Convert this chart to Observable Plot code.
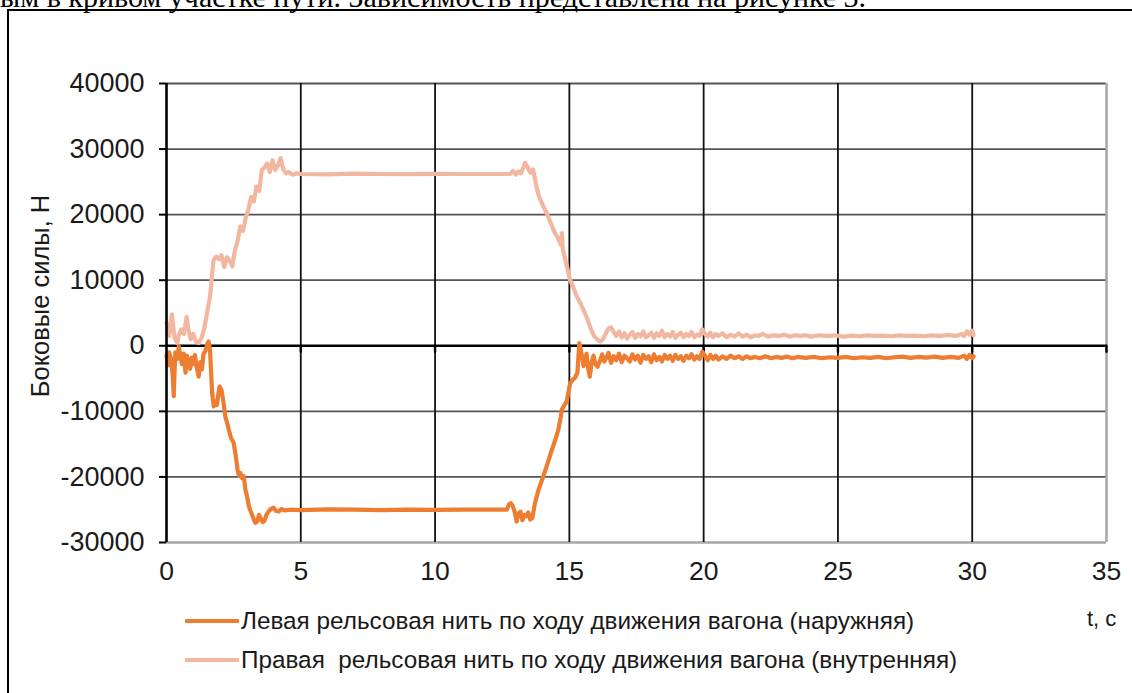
<!DOCTYPE html>
<html>
<head>
<meta charset="utf-8">
<script src="https://cdn.jsdelivr.net/npm/d3@7"></script>
<script src="https://cdn.jsdelivr.net/npm/@observablehq/plot@0.6"></script>
<style>
  html, body { margin: 0; padding: 0; background: #fff; overflow: hidden; }
  #wrap { position: relative; width: 1132px; height: 693px; overflow: hidden; font-family: "Liberation Sans", Arial, sans-serif; }
  #chart { position: absolute; left: 0; top: 0; }
  .abs { position: absolute; white-space: pre; color: #1a1a1a; }
  #toptext { left: 0; top: -20px; font-family: "Liberation Serif", "Times New Roman", serif; font-size: 30px; color: #000; }
  #box { left: 7px; top: 9px; width: 1150px; height: 720px; border: 2.5px solid #000; box-sizing: border-box; }
  #ytitle { left: 40px; top: 296px; font-size: 25.5px; transform: translate(-50%, -50%) rotate(-90deg); }
  .leg { left: 185px; font-size: 24.3px; display: flex; align-items: center; }
  .sw { width: 54px; height: 4px; margin-right: 2px; }
  #tunit { left: 1087px; top: 606px; font-size: 22px; }
</style>
</head>
<body>
<div id="wrap">
  <div class="abs" id="toptext">ым в кривом участке пути. Зависимость представлена на рисунке 3.</div>
  <div class="abs" id="box"></div>
  <div id="chart"></div>
  <div class="abs" id="ytitle">Боковые силы, Н</div>
  <div class="abs leg" id="leg1" style="top:607px"><span class="sw" id="sw1"></span><span id="lt1"></span></div>
  <div class="abs leg" id="leg2" style="top:646px"><span class="sw" id="sw2"></span><span id="lt2"></span></div>
  <div class="abs" id="tunit">t, с</div>
</div>
<script>
// ---- data ----
const seriesNames = [
  "Левая рельсовая нить по ходу движения вагона (наружняя)",
  "Правая  рельсовая нить по ходу движения вагона (внутренняя)"
];
const seriesColors = ["#ED7D31", "#F2B7A0"];
const xTicks = [0, 5, 10, 15, 20, 25, 30, 35];
const yTicks = [-30000, -20000, -10000, 0, 10000, 20000, 30000, 40000];

// Left rail (outer) – time, s
const leftT = [
  0.00,0.05,0.10,0.18,0.24,0.27,0.30,0.33,0.40,0.46,0.52,0.58,0.64,0.71,0.76,0.82,0.88,0.94,1.00,1.06,
  1.12,1.20,1.26,1.32,1.38,1.45,1.52,1.57,1.62,1.66,1.70,1.76,1.82,1.88,1.94,1.98,2.05,2.12,2.19,2.26,
  2.32,2.40,2.50,2.58,2.64,2.69,2.75,2.82,2.88,2.94,3.00,3.07,3.13,3.19,3.25,3.31,3.38,3.44,3.50,3.58,
  3.65,3.72,3.80,3.88,3.99,4.08,4.18,4.28,4.40,4.60,5,6,7,8,9,10,11,12,12.5,12.67,
  12.75,12.82,12.90,12.97,13.04,13.10,13.18,13.25,13.32,13.40,13.47,13.54,13.62,13.72,13.85,14.03,14.2,14.35,14.48,14.59,
  14.68,14.72,14.82,14.90,14.97,15.03,15.12,15.21,15.30,15.34,15.37,15.42,15.48,15.53,15.58,15.64,15.70,15.76,15.83,15.90,
  15.97,16.05,16.14,16.22,16.30,16.38,16.46,16.55,16.65,16.75,16.85,16.95,17.05,17.15,17.25,17.35,17.45,17.55,17.65,17.75,
  17.85,17.95,18.05,18.15,18.25,18.35,18.45,18.55,18.65,18.75,18.85,18.95,19.05,19.15,19.25,19.35,19.45,19.55,19.65,19.75,
  19.85,19.95,20.05,20.15,20.25,20.35,20.45,20.55,20.7,20.85,21.0,21.15,21.3,21.45,21.6,21.75,21.9,22.1,22.3,22.5,
  22.7,22.9,23.1,23.3,23.5,23.8,24.1,24.4,24.7,25.0,25.3,25.6,25.9,26.2,26.5,26.8,27.1,27.4,27.7,28.0,
  28.3,28.6,28.9,29.2,29.5,29.7,29.8,29.9,30.0,30.05
];
// Left rail (outer) – lateral force, N
const leftF = [
  -1500,-3000,-1000,-2200,-5000,-7700,-4000,-1000,-2000,-100,-1800,-2800,-1200,-4100,-1500,-2600,-3500,-1800,-2800,-1400,
  -3200,-4700,-2500,-3600,-1200,-800,300,650,-500,-4000,-7200,-9250,-8500,-9000,-7000,-6200,-6800,-8600,-10800,-11800,
  -12800,-14000,-14800,-16800,-18800,-19700,-19400,-20200,-19900,-22000,-23000,-24500,-25200,-25800,-26500,-27000,-26800,-25800,-26200,-26900,
  -26700,-25800,-25300,-24900,-24700,-25200,-25250,-24900,-25100,-25000,-25050,-24950,-25000,-25050,-24980,-25020,-25000,-24980,-25000,-25000,
  -24200,-24000,-24500,-25400,-26800,-25600,-25300,-26600,-25800,-26000,-25400,-26500,-26300,-24000,-22000,-19900,-17800,-15850,-14300,-12800,
  -10800,-9750,-9000,-8500,-7000,-5700,-5200,-4900,-4100,-1500,400,-500,-1800,-3100,-2200,-1200,-3400,-4700,-2600,-1500,
  -2800,-3200,-2300,-1300,-2400,-1800,-1100,-2600,-1600,-2200,-1200,-2500,-1500,-1900,-2400,-1300,-2100,-1500,-2600,-1400,
  -2000,-1600,-2500,-1300,-2200,-1700,-2400,-1400,-2000,-1500,-2300,-1400,-2000,-1600,-2300,-1500,-1900,-1300,-2100,-1600,
  -2000,-900,-1500,-2200,-1400,-2000,-1500,-2100,-1600,-2000,-1500,-1900,-1600,-2000,-1600,-1900,-1700,-1900,-1600,-1900,
  -1700,-1850,-1650,-1900,-1700,-1850,-1700,-1900,-1750,-1850,-1700,-1900,-1750,-1850,-1700,-1900,-1750,-1650,-1850,-1700,
  -1800,-1650,-1850,-1700,-1850,-1500,-2000,-1400,-1900,-1600
];

// Right rail (inner) – time, s
const rightT = [
  0.00,0.05,0.10,0.20,0.25,0.30,0.40,0.45,0.55,0.65,0.75,0.80,0.90,1.00,1.10,1.20,1.30,1.40,1.50,1.60,
  1.65,1.70,1.75,1.85,1.95,2.05,2.15,2.25,2.35,2.45,2.55,2.65,2.75,2.85,2.95,3.05,3.15,3.25,3.35,3.45,
  3.55,3.65,3.75,3.85,3.95,4.05,4.15,4.25,4.35,4.45,4.55,4.70,4.85,5,6,7,8,9,10,11,
  12,12.5,12.8,12.9,13.0,13.1,13.2,13.3,13.35,13.45,13.55,13.65,13.75,13.85,14.0,14.15,14.3,14.45,14.6,14.7,
  14.72,14.76,14.9,15.03,15.15,15.28,15.4,15.52,15.62,15.72,15.82,15.92,16.05,16.15,16.25,16.35,16.45,16.55,16.65,16.75,
  16.85,16.95,17.05,17.15,17.25,17.35,17.45,17.55,17.65,17.75,17.85,17.95,18.05,18.15,18.25,18.35,18.45,18.55,18.65,18.75,
  18.85,18.95,19.05,19.15,19.25,19.35,19.45,19.55,19.65,19.75,19.85,19.95,20.05,20.15,20.25,20.35,20.45,20.55,20.7,20.85,
  21.0,21.15,21.3,21.45,21.6,21.75,21.9,22.05,22.2,22.4,22.6,22.8,23.0,23.2,23.4,23.6,23.8,24.0,24.3,24.6,
  24.9,25.2,25.5,25.8,26.1,26.4,26.7,27.0,27.3,27.6,27.9,28.2,28.5,28.8,29.1,29.4,29.6,29.7,29.8,29.9,
  30.0,30.05
];
// Right rail (inner) – lateral force, N
const rightF = [
  3500,2500,1500,4800,3000,1200,400,1500,2500,1800,4400,2800,1000,1800,600,400,1200,2500,4800,7000,
  8600,11000,13000,13600,13200,13800,12000,13500,13000,12100,14600,16000,18200,17500,19500,20800,22700,22000,24300,23600,
  26800,27200,27800,26500,28300,26800,27500,28600,26900,26300,26500,26100,26300,26200,26150,26250,26200,26180,26220,26200,
  26200,26200,26200,26700,26100,26600,26300,27300,27900,27200,26400,26900,24800,23000,21500,20300,18800,17300,16200,15300,
  17200,14600,12300,10000,8900,7500,6600,5500,4600,3500,2400,1500,900,650,1000,1800,2600,2800,2100,1500,
  2200,1300,1900,1100,1700,2100,1200,1800,1400,2200,1300,1600,2000,1200,1900,1500,2300,1300,1800,1400,
  2100,1200,1700,2000,1300,1800,1500,2100,1300,1700,1500,2500,1800,1400,2000,1300,1800,1500,1900,1300,
  1700,1400,1900,1400,1700,1300,1600,1500,1800,1400,1600,1500,1700,1400,1600,1500,1600,1400,1600,1500,
  1600,1400,1550,1450,1600,1500,1550,1450,1600,1500,1550,1450,1600,1500,1650,1500,1800,1500,2200,1700,
  2300,1600
];

// ---- tables built from the arrays ----
const leftData = leftT.map((t, i) => ({t, f: leftF[i]}));
const rightData = rightT.map((t, i) => ({t, f: rightF[i]}));
const hGrid = yTicks.filter(v => v !== 0 && v !== yTicks[0]);
const vGrid = xTicks.filter(v => v !== xTicks[0] && v !== xTicks[xTicks.length - 1]);

const tickShape = { draw(context, l) { context.moveTo(0, 0); context.lineTo(0, -l); } };

const chart = Plot.plot({
  width: 1132,
  height: 693,
  marginLeft: 166,
  marginRight: 26,
  marginTop: 83,
  marginBottom: 151,
  style: { fontFamily: "'Liberation Sans', Arial, sans-serif", fontSize: "26px", background: "transparent", overflow: "visible", color: "#1a1a1a" },
  x: { domain: [xTicks[0], xTicks[xTicks.length - 1]] },
  y: { domain: [yTicks[0], yTicks[yTicks.length - 1]] },
  marks: [
    Plot.ruleY(hGrid, { stroke: "#555", strokeWidth: 1.8 }),
    Plot.ruleY([yTicks[0]], { stroke: "#a6a6a6", strokeWidth: 2.5 }),
    Plot.ruleX(vGrid, { stroke: "#111", strokeWidth: 1.8 }),
    Plot.ruleX([xTicks[xTicks.length - 1]], { stroke: "#a6a6a6", strokeWidth: 2.5 }),
    Plot.ruleY([0], { stroke: "#000", strokeWidth: 2.6 }),
    Plot.vector(xTicks.slice(1), { x: d => d, y: 0, length: 6, rotate: 180, anchor: "start", shape: tickShape, stroke: "#000", strokeWidth: 2.4 }),
    Plot.line(rightData, { x: "t", y: "f", stroke: seriesColors[1], strokeWidth: 4.2, strokeLinejoin: "round", curve: "linear" }),
    Plot.line(leftData, { x: "t", y: "f", stroke: seriesColors[0], strokeWidth: 4.2, strokeLinejoin: "round", curve: "linear" }),
    Plot.ruleX([xTicks[0]], { stroke: "#000", strokeWidth: 2.6 }),
    Plot.axisY({ ticks: yTicks, tickSize: 7, tickPadding: 15, tickFormat: d => String(d), fontSize: 27, stroke: "#000", strokeWidth: 2, fill: "#1a1a1a", label: null }),
    Plot.axisX({ ticks: xTicks, tickSize: 0, tickPadding: 19, tickFormat: d => String(d), fontSize: 26.5, fill: "#1a1a1a", label: null })
  ]
});
document.getElementById("chart").appendChild(chart);

document.getElementById("sw1").style.background = seriesColors[0];
document.getElementById("sw2").style.background = seriesColors[1];
document.getElementById("lt1").textContent = seriesNames[0];
document.getElementById("lt2").textContent = seriesNames[1];
</script>
</body>
</html>
